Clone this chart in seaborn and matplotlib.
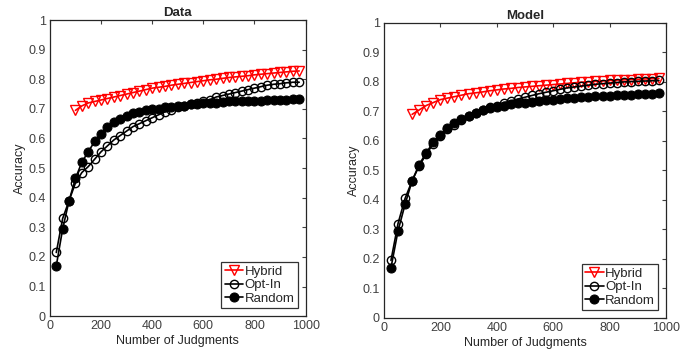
import numpy as np
import pandas as pd
import matplotlib
matplotlib.use("Agg")
import matplotlib.pyplot as plt
import seaborn as sns

sns.set_style("white")
plt.rcParams['font.family'] = ['Liberation Sans', 'DejaVu Sans']

# --- Datos ---
judg_all = list(range(25, 1000, 25))       # 25 .. 975
judg_hybrid = list(range(100, 1000, 25))   # 100 .. 975

data_random = [0.17, 0.295, 0.39, 0.465, 0.52, 0.555, 0.59, 0.615, 0.64, 0.655,
               0.665, 0.675, 0.685, 0.69, 0.695, 0.70, 0.70, 0.705, 0.705, 0.71,
               0.71, 0.715, 0.715, 0.72, 0.72, 0.72, 0.722, 0.725, 0.725, 0.726,
               0.727, 0.728, 0.728, 0.729, 0.73, 0.73, 0.731, 0.732, 0.733]
data_optin = [0.215, 0.33, 0.39, 0.45, 0.485, 0.505, 0.53, 0.555, 0.575, 0.595,
              0.61, 0.625, 0.64, 0.65, 0.66, 0.67, 0.68, 0.69, 0.695, 0.705,
              0.71, 0.715, 0.72, 0.725, 0.73, 0.74, 0.745, 0.75, 0.755, 0.76,
              0.765, 0.77, 0.775, 0.78, 0.783, 0.785, 0.788, 0.79, 0.79]
data_hybrid = [0.695, 0.71, 0.72, 0.725, 0.73, 0.735, 0.74, 0.745, 0.75, 0.755,
               0.76, 0.765, 0.77, 0.773, 0.776, 0.78, 0.783, 0.786, 0.789, 0.792,
               0.795, 0.798, 0.80, 0.803, 0.806, 0.808, 0.81, 0.812, 0.815, 0.817,
               0.819, 0.821, 0.823, 0.825, 0.827, 0.828]

model_random = [0.17, 0.295, 0.385, 0.465, 0.52, 0.56, 0.595, 0.62, 0.645, 0.66,
                0.675, 0.685, 0.695, 0.705, 0.71, 0.715, 0.72, 0.725, 0.728, 0.73,
                0.733, 0.736, 0.738, 0.74, 0.742, 0.744, 0.746, 0.748, 0.75, 0.751,
                0.752, 0.753, 0.755, 0.756, 0.757, 0.758, 0.759, 0.76, 0.762]
model_optin = [0.195, 0.32, 0.405, 0.465, 0.515, 0.555, 0.59, 0.615, 0.64, 0.655,
               0.67, 0.685, 0.695, 0.705, 0.715, 0.72, 0.73, 0.735, 0.742, 0.748,
               0.754, 0.76, 0.765, 0.77, 0.775, 0.78, 0.783, 0.786, 0.789, 0.792,
               0.794, 0.796, 0.798, 0.80, 0.801, 0.802, 0.803, 0.804, 0.805]
model_hybrid = [0.69, 0.705, 0.72, 0.73, 0.74, 0.745, 0.75, 0.755, 0.76, 0.763,
                0.766, 0.77, 0.773, 0.776, 0.778, 0.781, 0.783, 0.785, 0.787, 0.789,
                0.791, 0.793, 0.795, 0.797, 0.799, 0.80, 0.802, 0.803, 0.805, 0.806,
                0.807, 0.808, 0.809, 0.81, 0.811, 0.812]

titles = ["Data", "Model"]
series_labels = ["Hybrid", "Opt-In", "Random"]
xticks = [0, 200, 400, 600, 800, 1000]
yticks = [0, 0.1, 0.2, 0.3, 0.4, 0.5, 0.6, 0.7, 0.8, 0.9, 1]
ytick_labels = ["0", "0.1", "0.2", "0.3", "0.4", "0.5", "0.6", "0.7", "0.8", "0.9", "1"]

fig = plt.figure(figsize=(6.93, 3.58), dpi=100)
ax1 = fig.add_axes([0.072, 0.117, 0.369, 0.827])
ax2 = fig.add_axes([0.554, 0.112, 0.407, 0.824])

panels = [
    (ax1, data_hybrid, data_optin, data_random),
    (ax2, model_hybrid, model_optin, model_random),
]

tick_col = "#404040"
for (ax, hyb, opt, rnd), title in zip(panels, titles):
    sns.lineplot(x=judg_hybrid, y=hyb, ax=ax, color="red", marker="v", markersize=6.5,
                 mfc="none", mec="red", mew=1.0, lw=1.2, label=series_labels[0])
    sns.lineplot(x=judg_all, y=opt, ax=ax, color="black", marker="o", markersize=6,
                 mfc="none", mec="black", mew=1.0, lw=1.2, label=series_labels[1])
    sns.lineplot(x=judg_all, y=rnd, ax=ax, color="black", marker="o", markersize=6.5,
                 mfc="black", mec="black", lw=1.2, label=series_labels[2])

    ax.set_xlim(0, 1000)
    ax.set_ylim(0, 1)
    ax.set_xticks(xticks)
    ax.set_yticks(yticks)
    ax.set_yticklabels(ytick_labels)
    ax.tick_params(direction="in", top=True, right=True, length=3, width=0.8,
                   labelsize=9, colors=tick_col, labelcolor=tick_col, pad=3)
    for s in ax.spines.values():
        s.set_color("#262626")
        s.set_linewidth(0.9)
    ax.set_title(title, fontsize=9.5, fontweight="bold", pad=3)
    ax.set_xlabel("Number of Judgments", fontsize=9, color="#262626", labelpad=2)
    ax.set_ylabel("Accuracy", fontsize=9, color="#262626", labelpad=2)

    leg = ax.legend(loc="lower right", fontsize=9.5, frameon=True, fancybox=False,
                    edgecolor="black", handlelength=1.4, handletextpad=0.1,
                    borderpad=0.25, labelspacing=0.1, borderaxespad=0.6)
    leg.get_frame().set_linewidth(0.9)

plt.savefig("out.png", dpi=100)
plt.close()
